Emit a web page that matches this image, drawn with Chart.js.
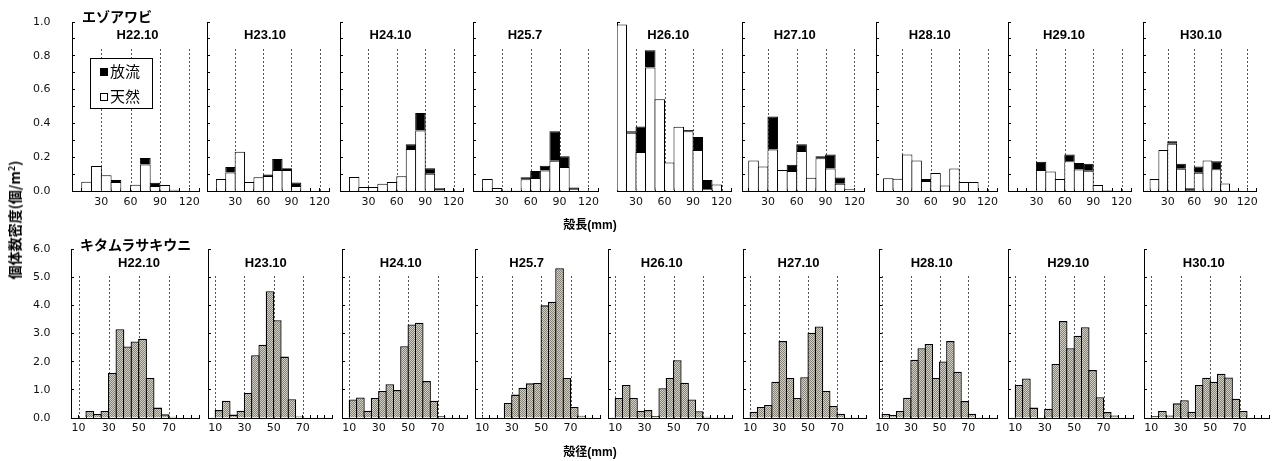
<!DOCTYPE html>
<html>
<head>
<meta charset="utf-8">
<script src="https://cdn.jsdelivr.net/npm/chart.js@4/dist/chart.umd.min.js"></script>
<style>
html,body{margin:0;padding:0;background:#fff;}
#wrap{position:relative;width:1280px;height:461px;overflow:hidden;background:#fff;}
#wrap canvas{position:absolute;}
.txt{position:absolute;white-space:nowrap;line-height:1;color:#000;transform:translate(-50%,-50%);}
.ttl{font-family:"Liberation Sans",Arial,sans-serif;font-weight:bold;font-size:13px;}
.jp{font-family:"Noto Sans CJK JP","Liberation Sans",sans-serif;font-weight:bold;}
.axt{font-family:"Liberation Sans","Noto Sans CJK JP",sans-serif;font-weight:bold;font-size:12px;}
#legend{position:absolute;left:90px;top:58px;width:61px;height:49px;border:1px solid #000;background:#fff;
  font-family:"Noto Sans CJK JP",sans-serif;font-size:15px;}
#legend .row{position:absolute;left:9px;height:16px;line-height:16px;}
#legend .sw{display:inline-block;width:8px;height:8px;box-sizing:border-box;border:1px solid #000;vertical-align:middle;margin-right:2px;position:relative;top:-1px;}
</style>
</head>
<body>
<div id="wrap"></div>
<script>
// ---------------- data ----------------
const years = ['H22.10','H23.10','H24.10','H25.7','H26.10','H27.10','H28.10','H29.10','H30.10'];
const seriesNames = ['放流','天然'];
const speciesTop = 'エゾアワビ';
const speciesBottom = 'キタムラサキウニ';

// shell-length classes (mm, class mid-points: 0-10, 10-20, ... 120-130)
const lengthBins = [5,15,25,35,45,55,65,75,85,95,105,115,125];
// test diameter classes (mm, class mid-points: 5-10, 10-15, ... 85-90)
const diameterBins = [7.5,12.5,17.5,22.5,27.5,32.5,37.5,42.5,47.5,52.5,57.5,62.5,67.5,72.5,77.5,82.5,87.5];

const lengthTickLabels = [30,60,90,120];
const diameterTickLabels = [10,30,50,70];
const topYTicks = [0,0.1,0.2,0.3,0.4,0.5,0.6,0.7,0.8,0.9,1.0];
const topYLabels = [0,0.2,0.4,0.6,0.8,1.0];
const bottomYTicks = [0,1,2,3,4,5,6];

// エゾアワビ 天然 (natural) density, 個/m2
const abaloneWild = [
  [0,0.055,0.148,0.093,0.053,0,0.037,0.157,0.030,0.035,0,0,0],
  [0,0.071,0.110,0.232,0.053,0.081,0.089,0.124,0.125,0.030,0,0,0],
  [0,0.083,0.024,0.024,0.043,0.053,0.087,0.248,0.358,0.102,0,0,0],
  [0,0.071,0.018,0.004,0.004,0.070,0.077,0.122,0.179,0.142,0.008,0,0],
  [0,0.985,0.345,0.231,0.731,0.543,0.169,0.380,0.353,0.243,0.012,0.039,0],
  [0,0.180,0.145,0.245,0.125,0.118,0.237,0.078,0.194,0.133,0.043,0.010,0],
  [0,0.076,0.073,0.216,0.180,0.059,0.106,0.033,0.133,0.053,0.053,0,0],
  [0,0,0,0.125,0.116,0.071,0.176,0.127,0.120,0.035,0,0,0],
  [0,0.071,0.243,0.280,0.131,0.002,0.108,0.180,0.129,0.045,0.006,0,0]
];
// エゾアワビ 放流 (released) density, 個/m2
const abaloneReleased = [
  [0,0,0,0,0.012,0,0,0.038,0.019,0,0.008,0,0],
  [0,0,0.032,0,0,0,0.009,0.065,0.009,0.021,0,0,0],
  [0,0,0,0,0,0,0,0.028,0.103,0.032,0.016,0,0],
  [0,0,0,0,0,0.011,0.041,0.028,0.175,0.063,0.012,0,0],
  [0,0,0.008,0.151,0.102,0,0,0,0.008,0.077,0.053,0,0],
  [0,0,0,0.196,0,0.037,0.039,0,0.012,0.083,0.037,0,0],
  [0,0,0,0,0,0.012,0,0,0,0,0,0,0],
  [0,0,0,0.048,0,0,0.040,0.038,0.041,0,0.006,0,0],
  [0,0,0,0.014,0.030,0.014,0.037,0,0.047,0,0,0,0]
];
// キタムラサキウニ density, 個/m2
const urchinDensity = [
  [0,0,0.25,0.14,0.25,1.60,3.15,2.54,2.72,2.81,1.42,0.37,0.13,0.04,0,0,0],
  [0,0.28,0.61,0.12,0.26,0.89,2.23,2.60,4.50,3.47,2.18,0.67,0.05,0,0,0,0],
  [0,0.66,0.73,0.26,0.71,0.96,1.20,0.99,2.55,3.32,3.38,1.31,0.61,0.06,0,0,0],
  [0,0,0,0,0.53,0.83,1.07,1.23,1.24,4.00,4.13,5.32,1.42,0.39,0.08,0,0],
  [0.03,0.71,1.17,0.71,0.25,0.28,0.07,1.06,1.42,2.05,1.25,0.66,0.24,0.04,0,0,0],
  [0,0.22,0.39,0.46,1.29,2.73,1.42,0.71,1.45,3.03,3.25,0.96,0.43,0.15,0.02,0,0],
  [0,0.14,0.11,0.25,0.72,2.07,2.48,2.63,1.42,2.01,2.73,1.64,0.60,0.15,0,0,0],
  [0,1.17,1.40,0.37,0,0.33,1.92,3.44,2.48,2.92,3.22,1.70,0.74,0.21,0.09,0,0],
  [0,0.07,0.25,0.09,0.52,0.63,0.22,1.17,1.43,1.29,1.57,1.44,0.68,0.25,0,0,0]
];

// ---------------- layout (pixel geometry of each panel's plot area) ----------------
const topRow = {top:22, bottom:191, xmax:130, step:10, ymax:1, refTop:0.84, xPad:8};
const topPanels = [[72,199,0],[207,329,0],[340,463,0],[473,598,0],[617,731,10],[742,864,3],[876,997,2],[1008,1131,0],[1143,1256,2]];
const topTitleX = [137.5,265,390.5,525,668.3,794.8,929.8,1064,1201];
const botRow = {top:249, bottom:418, xmax:90, step:5, ymax:6, refTop:5.05, xPad:7};
const botPanels = [[71,199,5],[208,332,5],[342,467,5],[475,600,5],[608,732,5],[743,866,5],[878,997,8],[1008,1133,5],[1144,1269,5]];
const botTitleX = [139,265.8,400.8,526.7,661.8,798.5,931.7,1068.3,1203.8];

const wrap = document.getElementById('wrap');

const refLinePlugin = {
  id: 'refLines',
  beforeDatasetsDraw(chart, args, o) {
    const {ctx} = chart; const x = chart.scales.x, y = chart.scales.y;
    ctx.save();
    ctx.strokeStyle = '#555'; ctx.lineWidth = 1; ctx.setLineDash([2,2]);
    o.values.forEach(v => {
      if (v < x.min || v > x.max) return;
      const px = Math.round(x.getPixelForValue(v)) + 0.5;
      ctx.beginPath();
      ctx.moveTo(px, y.getPixelForValue(0));
      ctx.lineTo(px, y.getPixelForValue(o.top));
      ctx.stroke();
    });
    ctx.restore();
  }
};

function makePattern() {
  const c = document.createElement('canvas'); c.width = 2; c.height = 2;
  const g = c.getContext('2d');
  g.fillStyle = '#d2cfc4'; g.fillRect(0,0,2,2);
  g.fillStyle = '#878376'; g.fillRect(0,0,1,1); g.fillRect(1,1,1,1);
  return g.createPattern(c, 'repeat');
}

function range(a, b, s) { const r = []; for (let v = a; v <= b + 1e-9; v += s) r.push(Math.round(v*1000)/1000); return r; }

function buildPanel(cfg) {
  const padT = 8, padR = 8, Hx = 24, labelLeft = 33;
  const padL = cfg.showY ? labelLeft : 0;
  const Wy = cfg.showY ? cfg.left - labelLeft : 10;
  const cLeft = cfg.left - Wy - padL;
  const width = cfg.right + padR - cLeft;
  const cTop = cfg.top - padT;
  const height = cfg.bottom + Hx - cTop;
  const cv = document.createElement('canvas');
  cv.width = width; cv.height = height;
  cv.style.left = cLeft + 'px'; cv.style.top = cTop + 'px';
  cv.style.width = width + 'px'; cv.style.height = height + 'px';
  wrap.appendChild(cv);
  const binPx = (cfg.right - cfg.left) * cfg.step / (cfg.xmax - cfg.xmin);
  const bp = 1 + cfg.bw / binPx;
  cfg.datasets.forEach(d => Object.assign(d, {barPercentage: bp, categoryPercentage: 1, borderWidth: cfg.bw, borderColor: '#000', inflateAmount: 0, stack: 'a'}));
  const xTicks = range(Math.ceil(cfg.xmin / cfg.step) * cfg.step, cfg.xmax, cfg.step);
  const tickFont = {family: 'DejaVu Sans', size: 11};
  new Chart(cv, {
    type: 'bar',
    data: {labels: cfg.labels, datasets: cfg.datasets},
    options: {
      responsive: false, animation: false, devicePixelRatio: 1, events: [],
      layout: {padding: {left: padL, right: padR, top: padT, bottom: 0}},
      plugins: {legend: {display: false}, tooltip: {enabled: false}, title: {display: false},
                refLines: {values: cfg.refValues, top: cfg.refTop}},
      scales: {
        x: {
          type: 'linear', min: cfg.xmin, max: cfg.xmax, offset: false, stacked: true,
          afterBuildTicks: s => { s.ticks = xTicks.map(v => ({value: v})); },
          afterFit: s => { s.height = Hx; },
          grid: {offset: false, drawOnChartArea: false, drawTicks: true, tickLength: -3, color: '#000', tickColor: '#000', lineWidth: 1},
          border: {display: true, color: '#000', width: 1},
          ticks: {autoSkip: false, maxRotation: 0, minRotation: 0, padding: cfg.xPad, color: '#111', font: tickFont,
                  callback: v => cfg.xLabels.includes(Math.round(v*1000)/1000) ? String(v) : ''}
        },
        y: {
          min: 0, max: cfg.ymax, stacked: true,
          afterBuildTicks: s => { s.ticks = cfg.yTicks.map(v => ({value: v})); },
          afterFit: s => { s.width = Wy; },
          grid: {drawOnChartArea: false, drawTicks: true, tickLength: -3, color: '#000', tickColor: '#000', lineWidth: 1},
          border: {display: true, color: '#000', width: 1},
          ticks: {display: cfg.showY, crossAlign: 'far', padding: 0, color: '#111', font: tickFont,
                  callback: v => cfg.yLabels.some(l => Math.abs(l - v) < 1e-6) ? v.toFixed(1) : ''}
        }
      }
    },
    plugins: [refLinePlugin]
  });
}

// top row: エゾアワビ
years.forEach((yr, i) => {
  const [l, r, mn] = topPanels[i];
  buildPanel({
    left: l, right: r, xmin: mn, xmax: topRow.xmax, step: topRow.step, top: topRow.top, bottom: topRow.bottom,
    ymax: topRow.ymax, yTicks: topYTicks, yLabels: topYLabels, showY: i === 0, bw: 1, xPad: topRow.xPad,
    xLabels: lengthTickLabels, refValues: lengthTickLabels, refTop: topRow.refTop, labels: lengthBins,
    datasets: [
      {label: seriesNames[1], data: abaloneWild[i], backgroundColor: '#ffffff'},
      {label: seriesNames[0], data: abaloneReleased[i], backgroundColor: '#000000'}
    ]
  });
});

// bottom row: キタムラサキウニ
const pattern = makePattern();
years.forEach((yr, i) => {
  const [l, r, mn] = botPanels[i];
  buildPanel({
    left: l, right: r, xmin: mn, xmax: botRow.xmax, step: botRow.step, top: botRow.top, bottom: botRow.bottom,
    ymax: botRow.ymax, yTicks: bottomYTicks, yLabels: bottomYTicks, showY: i === 0, bw: 1.3, xPad: botRow.xPad,
    xLabels: diameterTickLabels, refValues: diameterTickLabels, refTop: botRow.refTop, labels: diameterBins,
    datasets: [{label: speciesBottom, data: urchinDensity[i], backgroundColor: pattern}]
  });
});

// ---------------- text overlays ----------------
function addText(cls, html, x, y, extra) {
  const d = document.createElement('div');
  d.className = 'txt ' + cls; d.innerHTML = html;
  d.style.left = x + 'px'; d.style.top = y + 'px';
  if (extra) Object.assign(d.style, extra);
  wrap.appendChild(d);
  return d;
}
years.forEach((yr, i) => {
  addText('ttl', yr, topTitleX[i], 33.5);
  addText('ttl', yr, botTitleX[i], 261.5);
});
addText('jp', speciesTop, 82, 15.5, {fontSize: '14px', transform: 'translate(0,-50%)'});
addText('jp', speciesBottom, 80, 243.5, {fontSize: '14px', transform: 'translate(0,-50%)'});
addText('axt', '殻長(mm)', 590, 225);
addText('axt', '殻径(mm)', 590, 452);
addText('jp', '個体数密度(個/m<sup style="font-size:9px;vertical-align:5px;line-height:0">2</sup>)', 14, 220,
        {fontSize: '14px', transform: 'translate(-50%,-50%) rotate(-90deg)'});

const lg = document.createElement('div');
lg.id = 'legend';
lg.innerHTML =
  '<div class="row" style="top:4px"><span class="sw" style="background:#000"></span>' + seriesNames[0] + '</div>' +
  '<div class="row" style="top:29px"><span class="sw" style="background:#fff"></span>' + seriesNames[1] + '</div>';
wrap.appendChild(lg);
</script>
</body>
</html>
